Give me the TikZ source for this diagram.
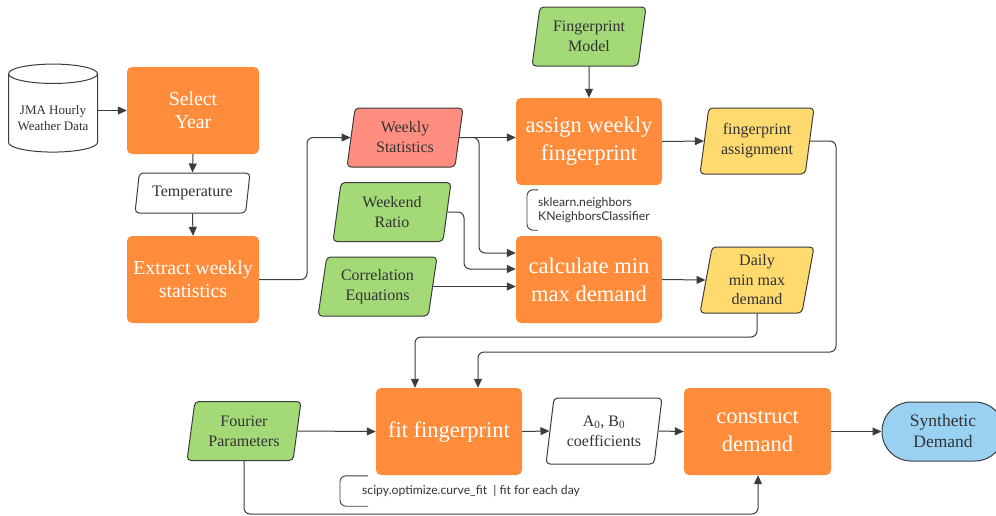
\documentclass[tikz,border=0pt]{standalone}
\usepackage{fontspec}
\setmainfont{Liberation Serif}
\newfontfamily\notefont{Lato}
\usepackage{tikz}
\usetikzlibrary{arrows.meta,positioning,calc,shapes.geometric}
\definecolor{procorange}{RGB}{255,140,58}
\definecolor{inputgreen}{RGB}{163,217,119}
\definecolor{statsalmon}{RGB}{255,141,128}
\definecolor{outyellow}{RGB}{255,218,110}
\definecolor{resultblue}{RGB}{153,209,242}
\definecolor{linegray}{RGB}{60,60,60}
\definecolor{textgray}{RGB}{51,51,51}
\tikzset{
  proc/.style={rectangle,rounded corners=5pt,fill=procorange,text=white,align=center,
    minimum width=146pt,minimum height=87pt,font=\fontsize{22.5}{28}\selectfont},
  data/.style={trapezium,trapezium left angle=78,trapezium right angle=102,
    trapezium stretches body,draw=linegray,line width=1pt,rounded corners=4pt,
    align=center,text=textgray,minimum width=116pt,minimum height=59pt,
    font=\fontsize{16}{20}\selectfont},
  conn/.style={-{Triangle[length=9pt,width=8pt]},line width=1pt,draw=linegray,rounded corners=6pt},
  note/.style={anchor=west,align=left,text=textgray,inner xsep=0pt,font=\notefont\fontsize{12.2}{13.5}\selectfont},
  bracket/.style={line width=0.9pt,draw=linegray,rounded corners=6pt}
}

\begin{document}
\begin{tikzpicture}[
  x=1pt,y=-1pt,
  store/.style={cylinder,shape border rotate=90,aspect=0.25,draw=linegray,line width=1pt,
    fill=white,align=center,text=textgray,font=\fontsize{13}{16}\selectfont},
  terminal/.style={rectangle,rounded corners=29pt,draw=linegray,line width=1pt,fill=resultblue,
    align=center,text=textgray,minimum width=122pt,minimum height=59pt,
    font=\fontsize{17.5}{21}\selectfont},
  leftproc/.style={proc,minimum width=132pt,font=\fontsize{19.8}{23}\selectfont}
]
  \useasboundingbox (0,0) rectangle (996,515);

  % left column
  \node[store,minimum width=89pt,minimum height=88pt] (jma) at (53,115) {\mbox{}\\JMA Hourly\\Weather Data};
  \node[leftproc] (sel) at (193,110.5) {Select\\Year};
  \node[data,fill=white,minimum width=115pt,minimum height=40pt] (temp) at (192.5,193) {Temperature};
  \node[leftproc] (extr) at (193,279.5) {Extract weekly\\statistics};

  % inputs
  \node[data,fill=statsalmon] (wk) at (405,137.5) {Weekly\\Statistics};
  \node[data,fill=inputgreen,minimum width=118pt] (wr) at (392,212) {Weekend\\Ratio};
  \node[data,fill=inputgreen,minimum width=119pt] (ce) at (377.5,286.5) {Correlation\\Equations};
  \node[data,fill=inputgreen,minimum width=114pt] (fm) at (589,36.5) {Fingerprint\\Model};
  \node[data,fill=inputgreen,minimum width=114pt] (fp) at (244,431) {Fourier\\Parameters};

  % processes
  \node[proc] (asg) at (589,141.5) {assign weekly\\fingerprint};
  \node[proc] (calc) at (589,279.5) {calculate min\\max demand};
  \node[proc] (fit) at (449,431.5) {fit fingerprint};
  \node[proc,minimum width=147pt] (con) at (757.5,431.5) {construct\\demand};

  % outputs
  \node[data,fill=outyellow,minimum width=114pt,minimum height=66pt] (fa) at (757,141) {fingerprint\\assignment};
  \node[data,fill=outyellow,minimum width=114pt,minimum height=66pt,
    font=\fontsize{16}{19.5}\selectfont] (dm) at (757,280) {Daily\\min max\\demand};
  \node[data,fill=white,minimum width=116pt,minimum height=66pt] (ab) at (604,431)
    {A\textsubscript{0}, B\textsubscript{0}\\coefficients};
  \node[terminal] (syn) at (943,431.5) {Synthetic\\Demand};

  % notes
  \node[note,minimum height=40pt] (knn) at (538,210) {sklearn.neighbors\\KNeighborsClassifier};
  \draw[bracket] (knn.north west) -| ([xshift=-11pt]knn.west) |- (knn.south west);
  \node[note,minimum height=30pt] (sci) at (362,491) {scipy.optimize.curve\_fit\ \ | fit for each day};
  \draw[bracket] ([xshift=6pt]sci.north west) -| ([xshift=-22pt]sci.west) |- ([xshift=6pt]sci.south west);

  % bend points
  \coordinate (b1) at (307,137.5);
  \coordinate (b2) at (479,253);
  \coordinate (b3) at (464,269);
  \coordinate (b4) at (836,352);
  \coordinate (b5) at (478,352);
  \coordinate (b6) at (757,337);
  \coordinate (b7) at (415,337);
  \coordinate (b8) at (758,514);

  \foreach \a/\b in {sel.south/temp.north,temp.south/extr.north,
      fm.south/asg.north,asg.east/fa.west,calc.east/dm.west,fp.east/fit.west,
      fit.east/ab.west,ab.east/con.west,con.east/syn.west}{
    \draw[conn] (\a) -- (\b);
  }

  \draw[conn] (jma.east |- sel.west) -- (sel.west);
  \draw[conn] (extr.east) -| (b1) -- (wk.west);
  \draw[conn] (wk.east) -- (wk.east -| asg.west);
  \draw[conn] (wk.east) -| (b2) -- (b2 -| calc.west);
  \draw[conn] (wr.east) -| (b3) -- (b3 -| calc.west);
  \draw[conn] (ce.east) -- (ce.east -| calc.west);
  \draw[conn] (fa.east) -| (b4) -- (b5) -- (b5 |- fit.north);
  \draw[conn] (dm.south) -- (b6) -- (b7) -- (b7 |- fit.north);
  \draw[conn] (fp.south) |- (b8) -- (b8 |- con.south);
\end{tikzpicture}
\end{document}
